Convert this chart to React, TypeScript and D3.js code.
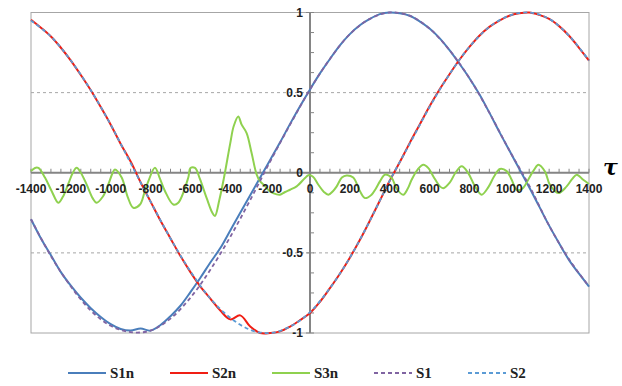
import React, { useEffect, useRef } from "react";
import * as d3 from "d3";

// tau grid for the smooth reference curves
const tau100 = [-1400, -1300, -1200, -1100, -1000, -900, -800, -700, -600, -500, -400, -300, -200, -100, 0,
  100, 200, 300, 400, 500, 600, 700, 800, 900, 1000, 1100, 1200, 1300, 1400];

const s1 = [-0.29, -0.52, -0.71, -0.86, -0.955, -0.995, -0.985, -0.91, -0.78, -0.605, -0.4, -0.17, 0.07, 0.3, 0.52,
  0.71, 0.865, 0.96, 1.0, 0.98, 0.9, 0.765, 0.59, 0.375, 0.14, -0.08, -0.33, -0.54, -0.71];

const s2 = [0.95, 0.85, 0.7, 0.515, 0.3, 0.06, -0.18, -0.41, -0.615, -0.785, -0.905, -0.98, -1.0, -0.96, -0.87,
  -0.72, -0.53, -0.3, -0.05, 0.18, 0.41, 0.615, 0.785, 0.91, 0.98, 1.0, 0.96, 0.855, 0.7];

// noisy measured curves, sampled every 50
const tau50 = [-1400, -1350, -1300, -1250, -1200, -1150, -1100, -1050, -1000, -950, -900, -850, -800, -750,
  -700, -650, -600, -550, -500, -450, -400, -350, -300, -250, -200, -150, -100, -50, 0,
  50, 100, 150, 200, 250, 300, 350, 400, 450, 500, 550, 600, 650, 700, 750,
  800, 850, 900, 950, 1000, 1050, 1100, 1150, 1200, 1250, 1300, 1350, 1400];

const s1n = [-0.29, -0.41, -0.515, -0.62, -0.705, -0.78, -0.845, -0.9, -0.945, -0.975, -0.985, -0.972, -0.985, -0.95,
  -0.895, -0.83, -0.745, -0.655, -0.56, -0.47, -0.36, -0.25, -0.14, -0.03, 0.08, 0.19, 0.305, 0.415, 0.52,
  0.62, 0.71, 0.795, 0.865, 0.92, 0.96, 0.99, 1.0, 0.995, 0.98, 0.945, 0.9, 0.84, 0.765, 0.68,
  0.59, 0.49, 0.375, 0.255, 0.14, 0.025, -0.09, -0.21, -0.33, -0.44, -0.545, -0.63, -0.71];

const s2n = [0.955, 0.905, 0.85, 0.78, 0.7, 0.61, 0.515, 0.41, 0.3, 0.18, 0.07, -0.06, -0.18, -0.3,
  -0.41, -0.52, -0.62, -0.71, -0.785, -0.86, -0.915, -0.89, -0.96, -1.0, -1.0, -0.99, -0.96, -0.92, -0.875,
  -0.805, -0.72, -0.63, -0.53, -0.42, -0.3, -0.175, -0.05, 0.065, 0.185, 0.3, 0.415, 0.52, 0.615, 0.705,
  0.785, 0.855, 0.91, 0.95, 0.98, 0.995, 1.0, 0.985, 0.96, 0.915, 0.855, 0.78, 0.7];

// green residual, read at its own turning points
const s3nTau = [-1400, -1380, -1363, -1330, -1296, -1263, -1240, -1213, -1190, -1171, -1150, -1121, -1090, -1071,
  -1040, -1012, -990, -979, -945, -915, -887, -853, -830, -811, -778, -755, -728, -686, -661, -611, -600,
  -577, -552, -518, -490, -477, -455, -433, -400, -383, -360, -343, -318, -293, -268, -251, -226, -201,
  -167, -151, -125, -100, -67, -25, -8, 15, 42, 70, 92, 115, 134, 160, 184, 217, 251, 276, 309, 330, 351,
  376, 410, 435, 468, 490, 510, 540, 569, 594, 619, 652, 669, 702, 730, 761, 794, 828, 861, 895, 925, 953,
  987, 1012, 1037, 1065, 1104, 1125, 1146, 1179, 1204, 1246, 1288, 1315, 1338, 1371, 1400];

const s3n = [0.01, 0.03, 0.03, -0.03, -0.115, -0.187, -0.15, -0.07, 0.0, 0.031, 0.0, -0.073, -0.16, -0.187,
  -0.15, -0.073, 0.0, 0.02, -0.03, -0.15, -0.218, -0.198, -0.12, -0.052, 0.031, -0.03, -0.114, -0.198, -0.187, -0.031, 0.029,
  0.03, -0.04, -0.16, -0.25, -0.27, -0.17, -0.04, 0.185, 0.29, 0.351, 0.3, 0.248, 0.123, -0.01, -0.052, -0.083, -0.116,
  -0.135, -0.137, -0.12, -0.106, -0.085, -0.033, -0.015, -0.025, -0.075, -0.12, -0.137, -0.115, -0.085, -0.03, -0.017, -0.03, -0.116, -0.158, -0.137, -0.1, -0.054,
  -0.012, -0.033, -0.1, -0.137, -0.1, -0.044, 0.02, 0.05, 0.029, -0.023, -0.085, -0.096, -0.06, 0.0, 0.04, -0.002, -0.085, -0.137, -0.09, -0.02, 0.023,
  0.01, -0.044, -0.106, -0.1, -0.023, 0.02, 0.05, 0.008, -0.075, -0.127, -0.085, -0.04, -0.012, -0.044, -0.07];

const xTickLabels = [-1400, -1200, -1000, -800, -600, -400, -200, 0, 200, 400, 600, 800, 1000, 1200, 1400];
const yTickLabels = [1, 0.5, 0, -0.5, -1];
const gridValues = [0.5, -0.5];

const legendNames = ["S1n", "S2n", "S3n", "S1", "S2"];
const colors = ["#4a7ebb", "#f01e14", "#8fd14f", "#8064a2", "#5b9bd5"];
const dashed = [false, false, false, true, true];

const App = () => {
  const ref = useRef<SVGSVGElement | null>(null);

  useEffect(() => {
    const svg = d3.select(ref.current);
    svg.selectAll("*").remove();

    const x = d3.scaleLinear().domain([-1400, 1400]).range([31, 589]);
    const y = d3.scaleLinear().domain([-1, 1]).range([333, 12.5]);
    const x0 = x(0);
    const y0 = y(0);

    // plot frame
    svg.append("rect")
      .attr("x", x(-1400)).attr("y", y(1))
      .attr("width", x(1400) - x(-1400)).attr("height", y(-1) - y(1))
      .attr("fill", "none").attr("stroke", "#a6a6a6").attr("stroke-width", 1);

    // dashed grid
    svg.selectAll(".grid").data(gridValues).enter().append("line")
      .attr("x1", x(-1400)).attr("x2", x(1400))
      .attr("y1", d => y(d)).attr("y2", d => y(d))
      .attr("stroke", "#a6a6a6").attr("stroke-width", 1).attr("stroke-dasharray", "3,3");

    // axes through origin
    const axisColor = "#858585";
    svg.append("line").attr("x1", x(-1400)).attr("x2", x(1400)).attr("y1", y0).attr("y2", y0)
      .attr("stroke", axisColor).attr("stroke-width", 2);
    svg.append("line").attr("x1", x0).attr("x2", x0).attr("y1", y(-1)).attr("y2", y(1))
      .attr("stroke", axisColor).attr("stroke-width", 2);

    svg.selectAll(".xtick").data(d3.range(-1400, 1401, 50)).enter().append("line")
      .attr("x1", d => x(d)).attr("x2", d => x(d))
      .attr("y1", y0 - 4).attr("y2", y0)
      .attr("stroke", axisColor).attr("stroke-width", 1);

    svg.selectAll(".ytick").data(d3.range(-1, 1.0001, 0.125)).enter().append("line")
      .attr("x1", d => (Math.abs(d * 2) % 1 === 0 ? x0 - 4 : x0)).attr("x2", x0 + 4)
      .attr("y1", d => y(d)).attr("y2", d => y(d))
      .attr("stroke", axisColor).attr("stroke-width", 1);

    // curves
    const line = d3.line<[number, number]>()
      .x(d => x(d[0])).y(d => y(d[1]))
      .curve(d3.curveCatmullRom);

    const series: [number, number][][] = [
      tau50.map((t, i) => [t, s1n[i]]),
      tau50.map((t, i) => [t, s2n[i]]),
      s3nTau.map((t, i) => [t, s3n[i]]),
      tau100.map((t, i) => [t, s1[i]]),
      tau100.map((t, i) => [t, s2[i]]),
    ];

    series.forEach((pts, i) => {
      svg.append("path")
        .attr("d", line(pts))
        .attr("fill", "none")
        .attr("stroke", colors[i])
        .attr("stroke-width", dashed[i] ? 1.8 : 2)
        .attr("stroke-dasharray", dashed[i] ? "4,3" : null)
        .attr("stroke-linejoin", "round");
    });

    // tick labels
    const fontTick = "'Liberation Sans', Arial, sans-serif";
    svg.selectAll(".xlab").data(xTickLabels).enter().append("text")
      .attr("x", d => x(d)).attr("y", 189)
      .attr("text-anchor", "middle").attr("dominant-baseline", "central")
      .attr("font-family", fontTick).attr("font-weight", "bold").attr("font-size", 12)
      .attr("fill", "#222")
      .text(d => d);

    svg.selectAll(".ylab").data(yTickLabels).enter().append("text")
      .attr("x", x0 - 7).attr("y", d => y(d))
      .attr("text-anchor", "end").attr("dominant-baseline", "central")
      .attr("font-family", fontTick).attr("font-weight", "bold").attr("font-size", 12)
      .attr("fill", "#222")
      .text(d => d);

    svg.append("text")
      .attr("x", 603).attr("y", 175)
      .attr("font-family", "'DejaVu Serif', serif").attr("font-style", "italic")
      .attr("font-weight", "bold").attr("font-size", 22)
      .text("τ");

    // legend
    const legendX = [68, 170, 272, 374, 468];
    const legendY = 373;
    legendNames.forEach((name, i) => {
      svg.append("line")
        .attr("x1", legendX[i]).attr("x2", legendX[i] + 38)
        .attr("y1", legendY).attr("y2", legendY)
        .attr("stroke", colors[i]).attr("stroke-width", 2)
        .attr("stroke-dasharray", dashed[i] ? "4,3" : null);
      svg.append("text")
        .attr("x", legendX[i] + 42).attr("y", legendY)
        .attr("dominant-baseline", "central")
        .attr("font-family", "'Liberation Serif', serif").attr("font-weight", "bold").attr("font-size", 15)
        .attr("fill", "#222")
        .text(name);
    });
  }, []);

  return (
    <svg ref={ref} width={622} height={386}
      style={{ position: "absolute", left: 0, top: 0, background: "#fff" }} />
  );
};

export default App;
